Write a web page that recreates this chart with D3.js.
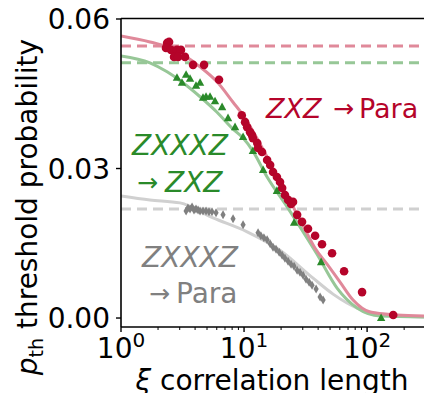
<!DOCTYPE html>
<html><head><meta charset="utf-8">
<script src="https://cdn.jsdelivr.net/npm/d3@7"></script>
<style>body{margin:0;background:#fff}svg{display:block}text{font-family:"DejaVu Sans",sans-serif}</style>
</head><body><svg id="c" width="424" height="393"></svg>
<script>
// ---- data ----
const redXi = [2.37,2.46,2.32,2.55,2.85,3.07,2.70,2.91,3.31,3.85,4.73,6.26,9.58,10.2,10.6,11.2,11.6,11.8,12.8,13.0,14.0,15.4,16.3,17.2,18.5,19.6,20.4,21.5,22.8,25.0,24.1,27.0,29.6,33.1,37.8,43.0,51.9,65.0,91.0,163];
const redP  = [0.0552,0.0554,0.0542,0.0538,0.0538,0.0538,0.0524,0.0524,0.0524,0.0508,0.0508,0.0478,0.0407,0.0393,0.0383,0.0373,0.0367,0.0361,0.0351,0.0341,0.0333,0.0317,0.0307,0.0293,0.0283,0.0273,0.0261,0.0247,0.0237,0.0233,0.0229,0.0207,0.0193,0.0179,0.0165,0.0148,0.0130,0.0094,0.0052,0.0006];
const greenXi = [2.85,3.13,3.38,3.64,4.07,4.39,4.64,4.91,5.29,5.81,6.63,7.41,8.45,9.82,11.8,14.3,18.5,25.5,42.3,130];
const greenP  = [0.0482,0.0472,0.0488,0.0480,0.0466,0.0472,0.0442,0.0444,0.0444,0.0435,0.0423,0.0401,0.0383,0.0363,0.0335,0.0297,0.0255,0.0191,0.0112,0.0000];
const greyXi = [3.38,3.50,3.64,3.78,3.92,4.07,4.23,4.39,4.64,4.91,5.19,5.49,5.92,6.75,8.14,9.82,13.0,13.7,14.5,15.4,16.3,17.2,18.2,19.3,20.4,21.5,22.8,24.1,25.5,27.0,28.5,30.2,31.9,33.8,35.7,38.5,41.5,43.9];
const greyP  = [0.0215,0.0221,0.0219,0.0223,0.0217,0.0219,0.0217,0.0215,0.0215,0.0215,0.0213,0.0213,0.0211,0.0207,0.0199,0.0187,0.0171,0.0165,0.0161,0.0157,0.0149,0.0142,0.0138,0.0132,0.0126,0.0120,0.0114,0.0108,0.0104,0.0096,0.0092,0.0086,0.0078,0.0072,0.0066,0.0058,0.0042,0.0036];
// fitted curves
const redFitXi = [1,1.72,2.37,3.19,4.39,6.03,8.14,9.82,12.3,15.4,19.6,24.6,30.2,37.8,47.3,60.3,76.9,106,175,290];
const redFitP  = [0.0566,0.0554,0.0544,0.0528,0.0504,0.0474,0.0433,0.0407,0.0367,0.0323,0.0273,0.0227,0.0185,0.0140,0.0108,0.0072,0.0036,0.0012,0.0006,0.0004];
const greenFitXi = [1,1.72,2.37,3.19,4.39,6.03,8.14,9.82,11.8,15.4,22.4,28.5,39.2,57.0,83.0,128,290];
const greenFitP  = [0.0526,0.0512,0.0494,0.0472,0.0444,0.0413,0.0379,0.0361,0.0335,0.0283,0.0223,0.0183,0.0128,0.0060,0.0020,0.0004,0.0002];
const greyFitXi = [1,1.72,3.02,5.60,10.6,19.6,36.4,52.9,83.0,128,290];
const greyFitP  = [0.0245,0.0237,0.0231,0.0201,0.0173,0.0136,0.0080,0.0048,0.0020,0.0008,0.0002];
// asymptotes (dashed)
const asymNames = ["red","green","grey"];
const asymP = [0.0546,0.0512,0.0219];
const yTicks = [0, 0.03, 0.06];
const yTickLabels = ["0.00","0.03","0.06"];
const xTicks = [1, 10, 100];
const xTickExp = ["0","1","2"];

// ---- chart ----
const svg = d3.select("#c");
const L=121, R=424, T=18.5, B=327;
const x = d3.scaleLog().domain([1,290]).range([L,R]);
const y = d3.scaleLinear().domain([-0.0018,0.0601]).range([B,T]);
const col = {red:"#b5042a", green:"#2a8a2a", grey:"#808080"};
const lineCol = {red:"#e0899a", green:"#97c797", grey:"#d0d0d0"};

svg.append("defs").append("clipPath").attr("id","clip").append("rect")
  .attr("x",L).attr("y",T).attr("width",R-L).attr("height",B-T);
const g = svg.append("g").attr("clip-path","url(#clip)");

// dashed asymptotes
asymNames.forEach((n,i)=>{
  g.append("line").attr("x1",L).attr("x2",R).attr("y1",y(asymP[i])).attr("y2",y(asymP[i]))
    .attr("stroke",lineCol[n]).attr("stroke-width",3).attr("stroke-dasharray","10,6");
});
const line = d3.line().x(d=>x(d[0])).y(d=>y(d[1])).curve(d3.curveMonotoneX);
[["grey",greyFitXi,greyFitP],["green",greenFitXi,greenFitP],["red",redFitXi,redFitP]].forEach(([n,xs,ps])=>{
  g.append("path").datum(xs.map((v,i)=>[v,ps[i]])).attr("d",line)
   .attr("fill","none").attr("stroke",lineCol[n]).attr("stroke-width",3);
});
// markers
g.selectAll(".gd").data(greyXi.map((v,i)=>[v,greyP[i]])).join("path")
  .attr("transform",d=>`translate(${x(d[0])},${y(d[1])})`)
  .attr("d","M0,-4.5L2.6,0L0,4.5L-2.6,0Z").attr("fill",col.grey);
g.selectAll(".gt").data(greenXi.map((v,i)=>[v,greenP[i]])).join("path")
  .attr("transform",d=>`translate(${x(d[0])},${y(d[1])})`)
  .attr("d","M0,-4.6L4.2,3L-4.2,3Z").attr("fill",col.green);
g.selectAll(".rc").data(redXi.map((v,i)=>[v,redP[i]])).join("circle")
  .attr("cx",d=>x(d[0])).attr("cy",d=>y(d[1])).attr("r",4.3).attr("fill",col.red);

// spines
svg.append("line").attr("x1",L).attr("x2",L).attr("y1",T).attr("y2",B).attr("stroke","#000").attr("stroke-width",1.6);
svg.append("line").attr("x1",L).attr("x2",R).attr("y1",B).attr("y2",B).attr("stroke","#000").attr("stroke-width",1.6);
svg.append("line").attr("x1",L).attr("x2",R).attr("y1",T).attr("y2",T).attr("stroke","#000").attr("stroke-width",1.6);

// y axis ticks
yTicks.forEach((t,i)=>{
  svg.append("line").attr("x1",L-5).attr("x2",L).attr("y1",y(t)).attr("y2",y(t)).attr("stroke","#000").attr("stroke-width",1.4);
  svg.append("text").attr("x",L-11).attr("y",y(t)).attr("dy","0.36em").attr("text-anchor","end")
    .attr("font-size",28).text(yTickLabels[i]);
});
// x axis ticks
const minor=[];
for (let d=1; d<1000; d*=10) for (let k=2;k<10;k++){ if (d*k<=290) minor.push(d*k); }
minor.forEach(t=>svg.append("line").attr("x1",x(t)).attr("x2",x(t)).attr("y1",B).attr("y2",B+3).attr("stroke","#000").attr("stroke-width",1));
xTicks.forEach((t,i)=>{
  svg.append("line").attr("x1",x(t)).attr("x2",x(t)).attr("y1",B).attr("y2",B+5).attr("stroke","#000").attr("stroke-width",1.4);
  const tx = svg.append("text").attr("x",x(t)).attr("y",358).attr("text-anchor","middle").attr("font-size",28);
  tx.append("tspan").text("10");
  tx.append("tspan").attr("dy",-11).attr("font-size",20).text(xTickExp[i]);
});
// axis titles
const xl = svg.append("text").attr("x",272).attr("y",390).attr("text-anchor","middle").attr("font-size",28);
xl.append("tspan").attr("font-style","italic").text("ξ");
xl.append("tspan").text(" correlation length");
const yl = svg.append("text").attr("transform","translate(37,207) rotate(-90)").attr("text-anchor","middle").attr("font-size",28);
yl.append("tspan").attr("font-style","italic").text("p");
yl.append("tspan").attr("font-size",19).attr("dy",6).text("th");
yl.append("tspan").attr("dy",-6).text(" threshold probability");

// annotations
const a1 = svg.append("text").attr("y",118).attr("font-size",27).attr("fill",col.red);
a1.append("tspan").attr("x",266).attr("font-style","italic").text("ZXZ");
a1.append("tspan").attr("x",333).attr("dy",-1).attr("font-size",25).text("\u2192");
a1.append("tspan").attr("x",359).attr("dy",1).text("Para");
svg.append("text").attr("x",180).attr("y",155).attr("text-anchor","middle").attr("font-size",28).attr("fill",col.green)
  .attr("font-style","italic").text("ZXXXZ");
const a2 = svg.append("text").attr("y",192).attr("font-size",28).attr("fill",col.green);
a2.append("tspan").attr("x",137).attr("dy",-1).attr("font-size",25).text("\u2192");
a2.append("tspan").attr("x",165).attr("dy",1).attr("font-style","italic").text("ZXZ");
svg.append("text").attr("x",190).attr("y",267).attr("text-anchor","middle").attr("font-size",28).attr("fill",col.grey)
  .attr("font-style","italic").text("ZXXXZ");
const a3 = svg.append("text").attr("y",303).attr("font-size",28).attr("fill",col.grey);
a3.append("tspan").attr("x",149).attr("dy",-1).attr("font-size",25).text("\u2192");
a3.append("tspan").attr("x",176).attr("dy",1).text("Para");
</script></body></html>
